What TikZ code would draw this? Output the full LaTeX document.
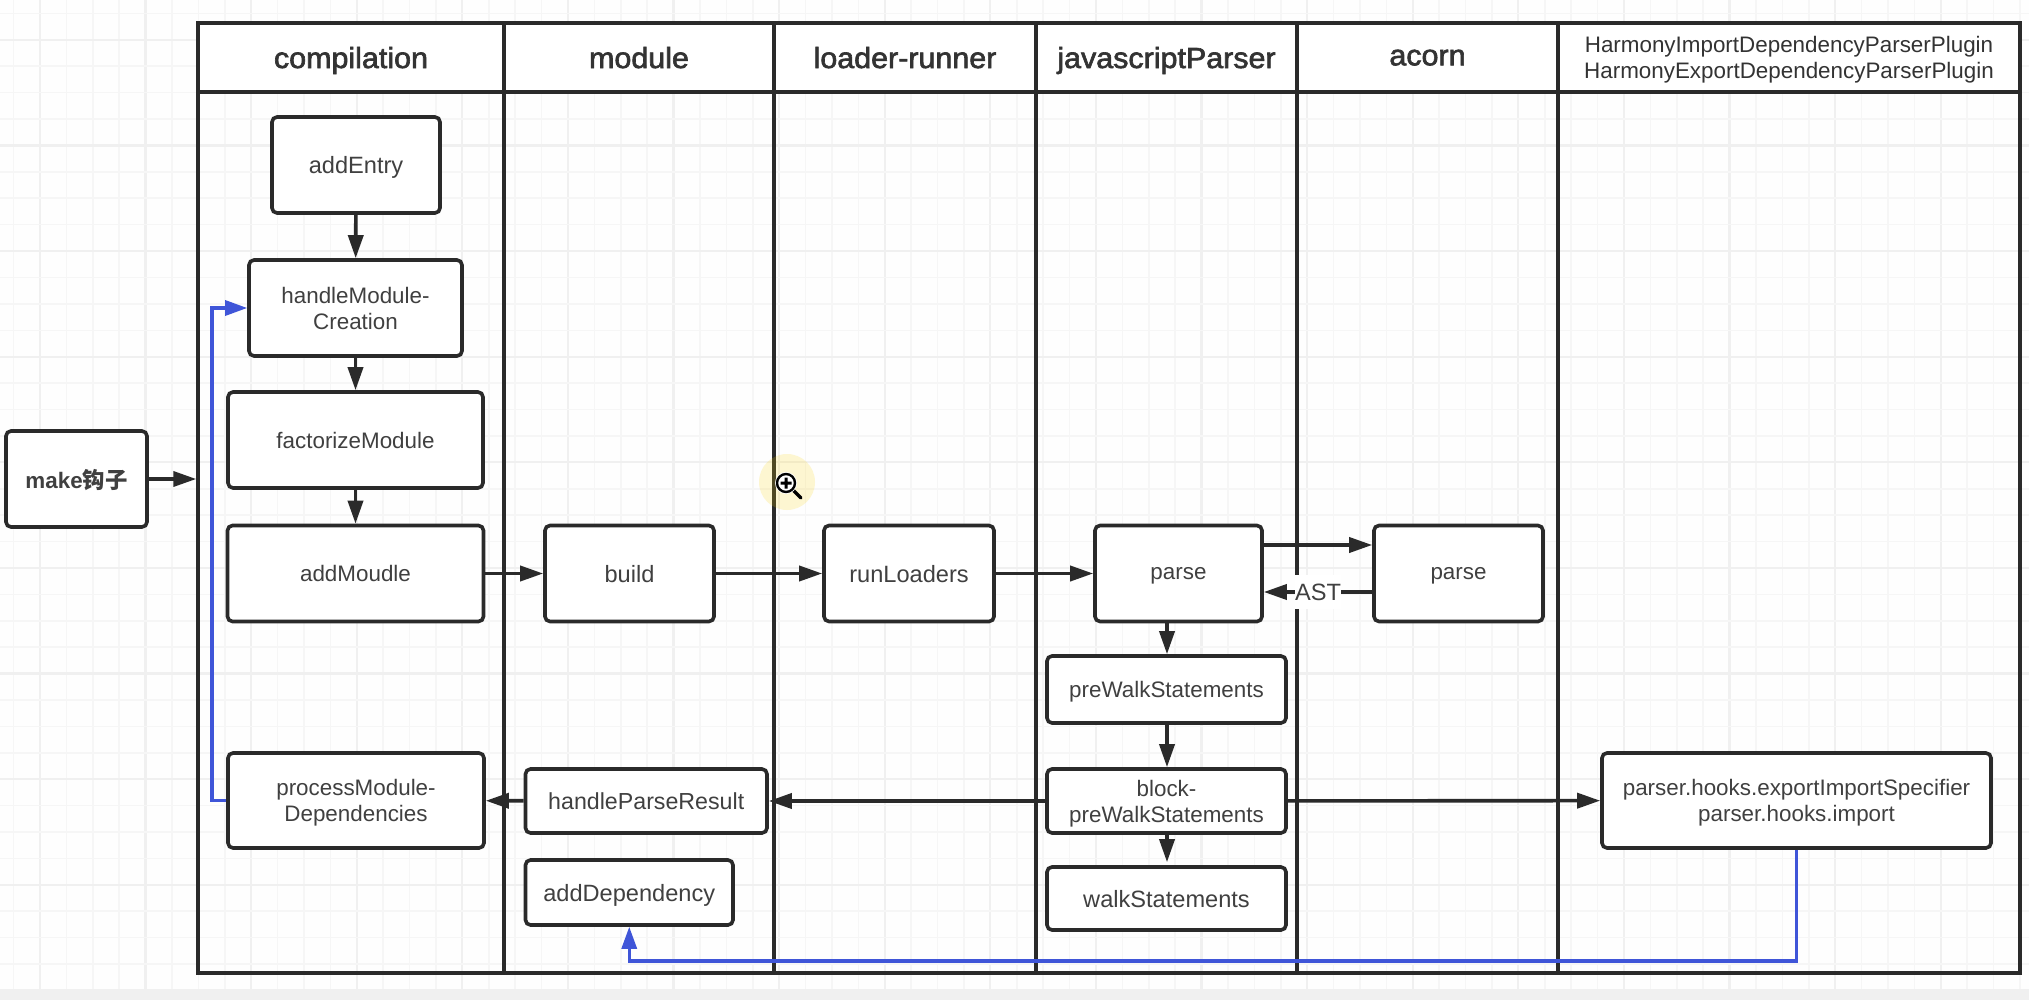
\documentclass[tikz,border=0pt]{standalone}
\usepackage{fontspec}
\setmainfont{Liberation Sans}
\newfontfamily\cjk{Noto Sans CJK SC}
\newfontfamily\hdfont[FakeStretch=1.05,RawFeature={embolden=2.2}]{Liberation Sans}
\usetikzlibrary{arrows.meta}
\definecolor{ink}{HTML}{2A2A2A}
\definecolor{txt}{HTML}{404040}
\definecolor{blu}{HTML}{3F55D8}
\definecolor{gridm}{HTML}{F0F0F0}
\definecolor{grids}{HTML}{F6F6F6}
\tikzset{
  cell/.style={draw=ink,line width=1.7pt,inner sep=0pt,minimum width=#1*0.5pt},
  hd/.style={cell=#1,fill=white,minimum height=34.5pt,text=black!80,text depth=0pt,font=\hdfont\fontsize{14.5}{15}\selectfont,align=center},
  bd/.style={cell=#1,minimum height=440.5pt},
  box/.style 2 args={draw=ink,line width=1.8pt,fill=white,rounded corners=2.5pt,inner sep=0pt,
    minimum width=#1*0.5pt,minimum height=#2*0.5pt,align=center,text=txt,text depth=0pt,
    font=\fontsize{11.2}{13}\selectfont},
  wide/.style={font=\fontsize{11.8}{13}\selectfont},
  arr/.style={draw=ink,line width=1.8pt,-{Triangle[length=11.5pt,width=7.5pt]}},
  barr/.style={draw=blu,line width=1.6pt,-{Triangle[length=11pt,width=7.5pt]}},
}
\begin{document}
\begin{tikzpicture}[x=0.5pt,y=-0.5pt]
\useasboundingbox (0,0) rectangle (2029,1000);
\fill[white!99.5!black] (0,0) rectangle (2029,1000);
% grid
\foreach \k in {0,...,76}{
  \pgfmathsetmacro{\gx}{13.5+26.4*\k}
  \pgfmathtruncatemacro{\mj}{mod(\k,4)==1}
  \ifnum\mj=1 \draw[gridm,line width=1.1pt] (\gx,0) -- (\gx,990);
  \else \draw[grids,line width=0.8pt] (\gx,0) -- (\gx,990);\fi
}
\foreach \k in {0,...,37}{
  \pgfmathsetmacro{\gy}{13.5+26.4*\k}
  \pgfmathtruncatemacro{\mj}{mod(\k,4)==1}
  \ifnum\mj=1 \draw[gridm,line width=1.1pt] (0,\gy) -- (2029,\gy);
  \else \draw[grids,line width=0.8pt] (0,\gy) -- (2029,\gy);\fi
}
\fill[black!6] (0,990) rectangle (2029,1000);
% swimlanes
\node[hd=306] (h1) at (351,57.5) {compilation};
\node[hd=270] (h2) at (639,57.5) {module};
\node[hd=262] (h3) at (905,57.5) {loader-runner};
\node[hd=261] (h4) at (1166.5,57.5) {javascriptParser};
\node[hd=261] (h5) at (1427.5,57.5) {acorn};
\node[hd=462,font=\fontsize{11.2}{13.3}\selectfont] (h6) at (1789,57.5) {HarmonyImportDependencyParserPlugin\\HarmonyExportDependencyParserPlugin};
\node[bd=306] (b1) at (351,532.5) {};
\node[bd=270] (b2) at (639,532.5) {};
\node[bd=262] (b3) at (905,532.5) {};
\node[bd=261] (b4) at (1166.5,532.5) {};
\node[bd=261] (b5) at (1427.5,532.5) {};
\node[bd=462] (b6) at (1789,532.5) {};
% cursor halo
\fill[yellow!70!orange,opacity=.18] (787,482) circle (28);
% boxes
\node[box={141}{96},font=\fontsize{11.2}{13}\selectfont\bfseries] (make) at (76.5,479) {make{\cjk\bfseries 钩子}};
\node[box={168}{96},wide] (entry) at (356,165) {addEntry};
\node[box={213}{96}] (create) at (355.5,308) {handleModule-\\Creation};
\node[box={255}{96}] (fact) at (355.5,440) {factorizeModule};
\node[box={256}{96}] (add) at (355.5,573.5) {addMoudle};
\node[box={169}{96},wide] (build) at (629.5,573.5) {build};
\node[box={170}{96},wide] (run) at (909,573.5) {runLoaders};
\node[box={167}{96}] (p1) at (1178.5,573.5) {parse};
\node[box={169}{96}] (p2) at (1458.5,573.5) {parse};
\node[box={239}{67}] (pre) at (1166.5,689.5) {preWalkStatements};
\node[box={239}{64}] (blk) at (1166.5,801) {block-\\preWalkStatements};
\node[box={239}{63},wide] (walk) at (1166.5,898.5) {walkStatements};
\node[box={389}{95}] (hook) at (1796.5,800.5) {parser.hooks.exportImportSpecifier\\parser.hooks.import};
\node[box={256}{95}] (proc) at (356,800.5) {processModule-\\Dependencies};
\node[box={241.5}{64},font=\fontsize{11.6}{13}\selectfont] (hpr) at (646.25,801) {handleParseResult};
\node[box={207.5}{65},wide] (dep) at (629.25,892.5) {addDependency};
% helper coordinates
\coordinate (yu) at (0,545);
\coordinate (yd) at (0,592);
\coordinate (x1) at (1167,0);
\coordinate (mt) at (b1.west |- make);
\coordinate (bl) at (212,0);
\coordinate (bb) at (0,961);
% connectors
\draw[arr] (make) -- (mt);
\draw[arr] (entry) -- (create);
\draw[arr] (create) -- (fact);
\draw[arr] (fact) -- (add);
\draw[arr] (add) -- (build);
\draw[arr] (build) -- (run);
\draw[arr] (run) -- (p1);
\draw[arr] (p1.east |- yu) -- (p2.west |- yu);
\draw[arr] (p2.west |- yd) -- node[pos=.5,fill=white,text=txt,inner xsep=0pt,inner ysep=2pt,minimum height=17pt,text depth=0pt,font=\fontsize{11.8}{13}\selectfont] {AST} (p1.east |- yd);
\draw[arr] (x1 |- p1.south) -- (x1 |- pre.north);
\draw[arr] (x1 |- pre.south) -- (x1 |- blk.north);
\draw[arr,shorten >=1.5pt] (x1 |- blk.south) -- (x1 |- walk.north);
\draw[arr] (blk) -- (hook);
\draw[arr] (blk) -- (hpr);
\draw[arr] (hpr) -- (proc);
\draw[barr] (proc.west) -- (bl |- proc.west) -- (bl |- create.west) -- (create.west);
\draw[barr] (hook.south) -- (hook.south |- bb) -- (dep.south |- bb) -- (dep.south);
% magnifier icon
\draw[black,line width=1.6pt,line cap=round] (793,490) -- (801,498);
\fill[white] (786,483) circle (11);
\draw[black,line width=1.2pt] (786,483) circle (9);
\fill[black] (784.5,477.5) rectangle (787.5,488.5) (780.5,481.5) rectangle (791.5,484.5);
\end{tikzpicture}
\end{document}
